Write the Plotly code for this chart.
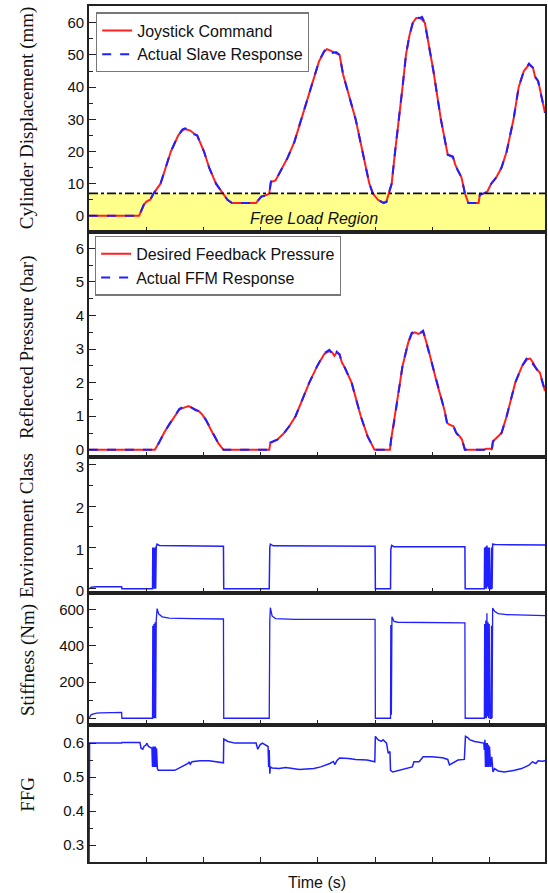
import plotly.graph_objects as go

# ---------------- data ----------------
# Cylinder displacement (mm): joystick command and slave response
t_disp = [0, 8.75, 9.6, 10.1, 10.7, 11.3, 12.5, 13.4, 14.3, 15.6, 16.3, 16.8, 17.7, 18.4, 18.9,
          20.1, 21.0, 22.2, 23.5, 24.2, 25.0, 29.2, 30.1, 31.1, 31.5, 31.8, 32.6, 33.5, 34.7,
          35.9, 37.1, 38.2, 39.3, 40.2, 41.1, 41.6, 42.0, 42.6, 43.2, 43.8, 44.4, 45.4, 46.6,
          47.8, 49.0, 49.6, 50.5, 51.5, 52.0, 52.4, 52.9, 53.5, 54.2, 54.8, 55.4, 56.0, 56.6,
          57.2, 57.8, 58.2, 58.7, 59.5, 60.2, 61.5, 62.1, 62.7, 63.6, 64.0, 64.5, 65.1, 65.7,
          66.3, 68.1, 68.3, 69.0, 69.6, 70.3, 71.2, 72.1, 73.0, 74.2, 75.1, 76.0, 76.9, 77.6,
          78.0, 78.5, 79.4, 79.7]
joystick_cmd = [0, 0, 3.5, 4.5, 5, 7, 10, 15, 20, 25, 26.5, 27, 26.5, 25.5, 25,
                20, 15, 10, 7, 5, 4, 4, 6, 6.5, 7, 10.5, 11, 14, 18,
                23, 30, 37, 43, 48, 51, 51.8, 51.5, 51, 50.5, 50, 44, 38, 30,
                20, 10, 7, 5, 4, 4.5, 7, 10, 20, 30, 40, 50, 56, 60,
                61.5, 61.5, 61, 60, 52, 45, 30, 24, 19, 18.5, 16, 14, 12, 7,
                4, 4, 6.5, 7, 7.5, 10, 12, 15, 20, 30, 40, 45, 47, 46,
                43, 42, 35, 32]
slave_resp = [0, 0, 3.5, 4.6, 5, 7, 10, 15, 20, 25, 26.8, 27.2, 26.6, 25.3, 25,
              20, 15, 10, 7, 5, 4, 4, 6, 6.4, 7, 10.7, 11, 14, 18,
              23, 30, 37, 43, 48, 51.2, 52.1, 51.4, 50.6, 50.9, 50, 44, 38, 30,
              20, 10, 7, 5, 4, 4.3, 7, 10, 20, 30, 40, 50, 56, 60,
              61.9, 61.4, 61.8, 60, 52, 45, 30, 24, 19, 18.3, 16, 14, 12, 7,
              4, 4, 6.6, 7, 7.4, 10, 12, 15, 20, 30, 40, 45, 47.3, 46,
              43.2, 41.8, 35, 32]
free_load_limit = 7

# Reflected pressure (bar)
t_pres = [0, 11.5, 12.2, 13.1, 14.0, 15.0, 15.8, 16.5, 17.4, 18.0, 18.6, 19.2, 19.8, 20.4,
          21.6, 22.6, 23.5, 31.5, 31.7, 32.9, 34.1, 35.0, 36.1, 37.3, 38.5, 39.9, 41.1,
          42.0, 42.5, 42.9, 43.3, 43.8, 44.2, 44.7, 45.9, 47.5, 48.7, 49.9, 52.6, 52.8,
          53.3, 53.9, 54.8, 55.8, 56.4, 56.9, 57.6, 58.4, 58.8, 59.3, 60.8, 62.1, 62.6,
          63.0, 63.7, 64.2, 64.8, 65.2, 65.7, 69.0, 69.5, 70.2, 70.4, 70.6, 70.9, 71.5,
          72.1, 73.0, 73.7, 74.5, 75.7, 76.6, 77.1, 77.6, 78.2, 78.8, 79.7]
desired_pressure = [0, 0, 0.2, 0.5, 0.75, 1.0, 1.2, 1.25, 1.3, 1.25, 1.2, 1.15, 1.05, 0.9,
                    0.5, 0.2, 0, 0, 0.2, 0.3, 0.5, 0.7, 1.0, 1.5, 2.0, 2.5, 2.85,
                    2.95, 2.9, 2.8, 2.9, 2.85, 2.6, 2.45, 2.0, 1.0, 0.4, 0, 0, 0.3,
                    0.8, 1.5, 2.5, 3.2, 3.45, 3.5, 3.45, 3.52, 3.3, 3.0, 2.0, 1.2, 0.8,
                    0.75, 0.7, 0.5, 0.4, 0.3, 0, 0, 0.03, 0.03, 0, 0.25, 0.3, 0.4,
                    0.5, 1.0, 1.5, 2.0, 2.5, 2.7, 2.72, 2.6, 2.4, 2.3, 1.75]
ffm_response = [0, 0, 0.2, 0.5, 0.75, 1.0, 1.22, 1.28, 1.32, 1.25, 1.18, 1.15, 1.05, 0.9,
                0.5, 0.2, 0, 0, 0.22, 0.3, 0.5, 0.7, 1.0, 1.5, 2.0, 2.5, 2.88,
                2.98, 2.88, 2.78, 2.92, 2.83, 2.6, 2.45, 2.0, 1.0, 0.4, 0, 0, 0.3,
                0.8, 1.5, 2.5, 3.2, 3.48, 3.53, 3.44, 3.55, 3.3, 3.0, 2.0, 1.2, 0.78,
                0.74, 0.7, 0.5, 0.38, 0.3, 0, 0, 0.04, 0.04, 0, 0.25, 0.3, 0.4,
                0.5, 1.0, 1.5, 2.0, 2.5, 2.75, 2.74, 2.55, 2.42, 2.28, 1.75]

# Environment class
t_env = [0, 0.4, 1.3, 5.7, 5.75, 11.1, 11.15, 11.25, 11.35, 11.45, 11.55, 11.65, 11.75, 11.9,
         12.3, 23.5, 23.55, 31.5, 31.6, 31.7, 32.2, 50.0, 50.05, 52.7, 52.75, 52.9, 53.3,
         65.7, 65.75, 69.1, 69.15, 69.25, 69.35, 69.45, 69.55, 69.65, 69.75, 69.85, 69.95,
         70.1, 70.3, 70.35, 70.45, 70.55, 71.0, 79.7]
env_class = [0, 0.04, 0.05, 0.05, 0, 0, 1.0, 0, 1.0, 0, 1.0, 0, 1.02, 1.08,
             1.05, 1.03, 0, 0, 1.0, 1.08, 1.04, 1.03, 0, 0, 0.95, 1.05, 1.02,
             1.02, 0, 0, 1.0, 0, 1.02, 0, 1.05, 0.05, 1.0, 0, 1.0,
             0, 0, 1.0, 0, 1.08, 1.07, 1.06]

# Stiffness (Nm)
t_stiff = [0, 0.4, 1.3, 2.0, 5.7, 5.75, 11.1, 11.15, 11.25, 11.35, 11.45, 11.55, 11.65, 11.75,
           11.9, 12.2, 12.8, 14.0, 18.0, 23.5, 23.55, 31.5, 31.6, 31.7, 32.0, 32.6, 36.0,
           50.0, 50.05, 52.7, 52.75, 52.85, 52.95, 53.3, 54.0, 65.7, 65.75, 69.1, 69.15,
           69.25, 69.35, 69.45, 69.55, 69.65, 69.75, 69.85, 69.95, 70.1, 70.3, 70.35, 70.45,
           70.55, 70.9, 71.5, 73.0, 79.7]
stiffness = [0, 20, 28, 30, 32, 0, 0, 510, 0, 520, 0, 530, 0, 540,
             605, 575, 560, 553, 550, 548, 0, 0, 540, 610, 565, 550, 546,
             546, 0, 0, 515, 20, 560, 535, 530, 526, 0, 0, 520,
             0, 540, 0, 580, 10, 530, 0, 520, 0, 0, 510, 0,
             608, 590, 578, 572, 566]

# Force feedback gain
t_ffg = [0, 0.1, 5.7, 5.75, 8.9, 9.1, 9.4, 9.6, 10.0, 10.1, 10.4, 10.7, 11.0, 11.1, 11.2, 11.3,
         11.4, 11.5, 11.6, 11.7, 11.8, 11.95, 12.1, 15.0, 15.6, 16.8, 17.3, 17.5, 17.7, 18.0,
         19.4, 21.0, 22.0, 23.5, 23.55, 24.3, 25.5, 29.2, 29.5, 29.9, 30.3, 30.8, 31.3, 31.4,
         31.5, 31.6, 31.7, 32.0, 33.2, 34.4, 35.6, 36.8, 38.0, 39.3, 40.5, 41.5, 42.1, 42.7,
         43.0, 43.3, 43.8, 45.4, 46.6, 48.6, 49.8, 49.95, 50.05, 50.5, 51.1, 51.4, 52.0, 52.3,
         52.6, 52.7, 53.1, 53.8, 55.7, 56.5, 56.8, 57.7, 58.4, 59.9, 61.8, 62.7, 63.0, 63.5,
         63.9, 64.5, 65.6, 65.8, 66.3, 66.5, 67.4, 69.0, 69.1, 69.2, 69.3, 69.4, 69.5, 69.6,
         69.7, 69.8, 69.9, 70.0, 70.2, 70.4, 70.6, 70.9, 71.5, 72.6, 74.4, 75.6, 76.9, 77.5,
         78.1, 78.5, 79.3, 79.7]
ffg = [0.2, 0.6, 0.6, 0.602, 0.602, 0.585, 0.582, 0.59, 0.595, 0.6, 0.59, 0.588, 0.585, 0.53,
       0.59, 0.53, 0.59, 0.53, 0.59, 0.53, 0.585, 0.525, 0.52, 0.52, 0.525, 0.535, 0.54, 0.545,
       0.538, 0.545, 0.548, 0.548, 0.545, 0.542, 0.612, 0.605, 0.6, 0.6, 0.582, 0.595, 0.6,
       0.595, 0.59, 0.53, 0.58, 0.51, 0.53, 0.527, 0.525, 0.528, 0.524, 0.522, 0.524, 0.525,
       0.53, 0.535, 0.54, 0.546, 0.537, 0.548, 0.556, 0.555, 0.552, 0.55, 0.545, 0.545, 0.62,
       0.61, 0.605, 0.61, 0.6, 0.57, 0.575, 0.52, 0.515, 0.518, 0.525, 0.53, 0.545, 0.545,
       0.56, 0.56, 0.557, 0.552, 0.536, 0.54, 0.545, 0.55, 0.552, 0.62, 0.615, 0.61, 0.605,
       0.6, 0.58, 0.61, 0.53, 0.6, 0.53, 0.6, 0.53, 0.595, 0.53, 0.59, 0.53, 0.56, 0.515,
       0.525, 0.518, 0.515, 0.52, 0.525, 0.535, 0.545, 0.54, 0.548, 0.547, 0.548]

# ---------------- figure ----------------
RED = "#FF2020"
BLUE = "#1F1FFF"
SANS = "Liberation Sans, Arial, sans-serif"
SERIF = "Liberation Serif, Times New Roman, serif"

fig = go.Figure()

# panel 1 - displacement
fig.add_trace(go.Scatter(x=t_disp, y=joystick_cmd, mode="lines", name="Joystick Command",
                         line=dict(color=RED, width=2), xaxis="x", yaxis="y", legend="legend"))
fig.add_trace(go.Scatter(x=t_disp, y=slave_resp, mode="lines", name="Actual Slave Response",
                         line=dict(color=BLUE, width=2, dash="dash"), xaxis="x", yaxis="y",
                         legend="legend"))
# panel 2 - pressure
fig.add_trace(go.Scatter(x=t_pres, y=desired_pressure, mode="lines", name="Desired Feedback Pressure",
                         line=dict(color=RED, width=2), xaxis="x2", yaxis="y2", legend="legend2"))
fig.add_trace(go.Scatter(x=t_pres, y=ffm_response, mode="lines", name="Actual FFM Response",
                         line=dict(color=BLUE, width=2, dash="dash"), xaxis="x2", yaxis="y2",
                         legend="legend2"))
# panels 3-5
fig.add_trace(go.Scatter(x=t_env, y=env_class, mode="lines", showlegend=False,
                         line=dict(color=BLUE, width=1.5), xaxis="x3", yaxis="y3"))
fig.add_trace(go.Scatter(x=t_stiff, y=stiffness, mode="lines", showlegend=False,
                         line=dict(color=BLUE, width=1.3), xaxis="x4", yaxis="y4"))
fig.add_trace(go.Scatter(x=t_ffg, y=ffg, mode="lines", showlegend=False,
                         line=dict(color=BLUE, width=1.5), xaxis="x5", yaxis="y5"))

X_RANGE = [0, 79.7]
Y_RANGES = [[-4.9, 65.2], [-0.2, 6.5], [-0.09, 3.2], [-36, 694], [0.25, 0.654]]
Y_DOMAINS = [[0.7364, 1.0], [0.4737, 0.7364], [0.3148, 0.4737], [0.1603, 0.3148], [0.0, 0.1603]]
Y_TICKS = [(0, 10, 5), (0, 1, 0.5), (0, 1, 0.5), (0, 200, 100), (0.3, 0.1, 0.05)]
# small vertical nudge of tick labels where two stacked panels meet
LABEL_SHIFT = [0, 0, 2, 0, 0]

axis_line = dict(showline=True, linecolor="#222222", linewidth=1.6, mirror=True,
                 showgrid=False, zeroline=False)
layout_axes = {}
for i in range(5):
    sfx = "" if i == 0 else str(i + 1)
    tick0, dtick, mdt = Y_TICKS[i]
    layout_axes["xaxis" + sfx] = dict(
        domain=[0, 1], range=X_RANGE, anchor="y" + sfx, showticklabels=False,
        ticks="inside", ticklen=5, tickwidth=1.2, tickcolor="#222222",
        tick0=0, dtick=10, **axis_line)
    layout_axes["yaxis" + sfx] = dict(
        domain=Y_DOMAINS[i], range=Y_RANGES[i], anchor="x" + sfx,
        ticks="inside", ticklen=7, tickwidth=1.2, tickcolor="#222222",
        tick0=tick0, dtick=dtick, ticklabelshift=LABEL_SHIFT[i],
        minor=dict(ticks="inside", ticklen=4, tickwidth=1.2, tickcolor="#222222",
                   dtick=mdt, showgrid=False),
        tickfont=dict(family=SANS, size=15, color="#111111"), **axis_line)

fig.update_layout(**layout_axes)

# free load region band and threshold line
fig.add_shape(type="rect", xref="x domain", yref="y", x0=0, x1=1,
              y0=Y_RANGES[0][0], y1=free_load_limit, fillcolor="#FFFF8C",
              line=dict(width=0), layer="below")
fig.add_shape(type="line", xref="x domain", yref="y", x0=0, x1=1,
              y0=free_load_limit, y1=free_load_limit,
              line=dict(color="#111111", width=1.6, dash="dashdot"))
fig.add_annotation(x=39.3, y=-0.9, xref="x", yref="y", text="<i>Free Load Region</i>",
                   showarrow=False, font=dict(family=SANS, size=16, color="#111111"))

# axis titles
titles = [("Cylinder Displacement (mm)", 0.8692), ("Reflected Pressure (bar)", 0.6018),
          ("Environment Class", 0.3927), ("Stiffness (Nm)", 0.2363), ("FFG", 0.0788)]
for txt, yc in titles:
    fig.add_annotation(x=-0.1354, y=yc, xref="paper", yref="paper", text=txt,
                       textangle=-90, showarrow=False, xanchor="center", yanchor="middle",
                       font=dict(family=SERIF, size=19, color="#111111"))
fig.add_annotation(x=0.5, y=-0.0238, xref="paper", yref="paper", text="Time (s)",
                   showarrow=False, xanchor="center", yanchor="middle",
                   font=dict(family=SANS, size=16, color="#111111"))

legend_style = dict(xanchor="left", yanchor="top", bgcolor="rgba(255,255,255,0.9)",
                    bordercolor="#777777", borderwidth=1.2,
                    font=dict(family=SANS, size=16, color="#111111"),
                    tracegroupgap=0, itemwidth=30)
fig.update_layout(
    width=548, height=893,
    margin=dict(l=89, r=1, t=6, b=30.7),
    paper_bgcolor="white", plot_bgcolor="white",
    showlegend=True,
    legend=dict(x=0.0153, y=0.9926, **legend_style),
    legend2=dict(x=0.013, y=0.7318, **legend_style),
)

fig.write_html("out.html")
